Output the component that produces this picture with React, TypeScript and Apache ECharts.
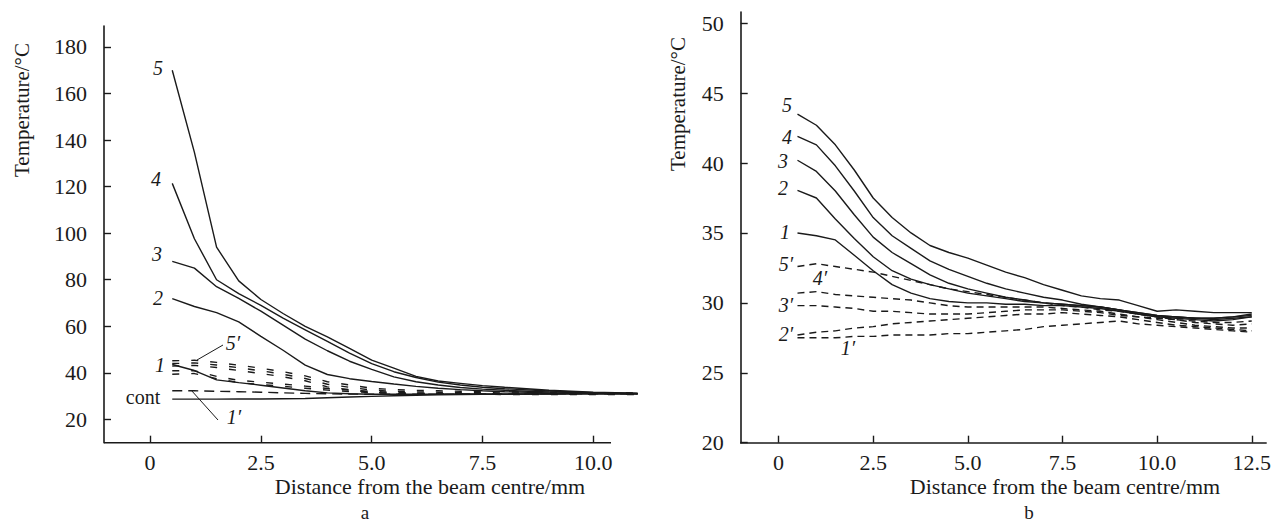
import React, { useEffect, useRef } from "react";
import * as echarts from "echarts";

// ---------- Panel a ----------
const xA = [0.5, 1, 1.5, 2, 2.5, 3, 3.5, 4, 4.5, 5, 5.5, 6, 6.5, 7, 7.5, 8, 9, 10, 11];
const a5 = [170, 134.7, 94, 79.5, 71.5, 65.5, 60, 55.5, 50.5, 45.5, 42, 38.5, 36.5, 35.5, 34.5, 33.8, 32.5, 31.7, 31.3];
const a4 = [121.4, 97.6, 80, 74, 69, 63.5, 58.5, 53.5, 48.5, 44, 40.5, 38, 36, 34.8, 33.8, 33.2, 32.2, 31.5, 31.2];
const a3 = [87.9, 85, 77, 72, 66.5, 60.5, 54.5, 49.5, 45, 41.5, 38.3, 36.2, 34.8, 33.7, 33, 32.5, 31.8, 31.4, 31.1];
const a2 = [71.9, 68.5, 65.9, 61.9, 55.7, 49.7, 43.3, 39.3, 37.5, 36.3, 35.2, 34.2, 33.4, 32.8, 32.3, 31.9, 31.4, 31.1, 31.0];
const a1 = [43.6, 41, 37, 35.8, 34.7, 33.5, 32.3, 31.4, 31, 30.8, 30.8, 30.8, 30.8, 30.9, 30.9, 30.9, 31, 31, 31];
const aD5 = [45.2, 45.4, 44.5, 43.3, 42, 40.5, 38.7, 36.2, 34.8, 33.4, 32.8, 32.5, 32.3, 32.1, 32, 31.9, 31.7, 31.5, 31.4];
const aD4 = [44, 44.3, 43.4, 42.2, 40.9, 39.4, 37.6, 35.1, 33.8, 32.6, 32, 31.8, 31.7, 31.6, 31.5, 31.4, 31.3, 31.2, 31.2];
const aD3 = [42.9, 43.2, 42.3, 41, 39.7, 38.3, 36.6, 34, 32.8, 31.6, 31.2, 31.1, 31, 31, 31, 31, 30.9, 30.9, 30.9];
const aD2 = [40.9, 40.9, 38.5, 36.8, 36, 35.2, 34.3, 33.3, 32.6, 32, 31.6, 31.3, 31.1, 31, 30.9, 30.9, 30.8, 30.8, 30.8];
const aD2b = [39.4, 39.7, 37.5, 35.8, 35, 34.2, 33.4, 32.6, 32, 31.5, 31.2, 31, 30.9, 30.8, 30.8, 30.7, 30.7, 30.7, 30.7];
const aD1 = [32.3, 32.3, 32.1, 31.9, 31.7, 31.4, 31.2, 31, 30.9, 30.8, 30.8, 30.8, 30.8, 30.9, 30.9, 30.9, 31, 31, 31];
const aCont = [28.7, 28.7, 28.7, 28.8, 28.8, 28.9, 29.0, 29.3, 29.6, 29.9, 30.2, 30.4, 30.6, 30.7, 30.8, 30.8, 30.9, 31, 31];
const aXTicks = [0, 2.5, 5, 7.5, 10];
const aYTicks = [20, 40, 60, 80, 100, 120, 140, 160, 180];
// x-axis line of panel a stops short of the curves' last point
const aAxisX = [-1.04, 10.4];
const aAxisY = 10;

// ---------- Panel b ----------
const xB = [0.5, 1, 1.5, 2, 2.5, 3, 3.5, 4, 4.5, 5, 5.5, 6, 6.5, 7, 7.5, 8, 8.5, 9, 9.5, 10, 10.5, 11, 11.5, 12, 12.5];
const b5 = [43.5, 42.7, 41.3, 39.5, 37.5, 36.1, 35.0, 34.1, 33.6, 33.2, 32.7, 32.2, 31.8, 31.3, 30.9, 30.5, 30.3, 30.2, 29.8, 29.4, 29.5, 29.4, 29.3, 29.3, 29.3];
const b4 = [41.9, 41.3, 39.8, 38.0, 36.1, 34.8, 33.9, 33.0, 32.4, 31.9, 31.4, 31.0, 30.7, 30.4, 30.2, 29.9, 29.7, 29.5, 29.2, 29.0, 29.0, 28.9, 28.9, 29.0, 29.2];
const b3 = [40.2, 39.4, 38.0, 36.3, 34.7, 33.6, 32.8, 32.0, 31.4, 31.0, 30.7, 30.4, 30.2, 30.0, 29.9, 29.8, 29.7, 29.5, 29.3, 29.1, 29.0, 28.9, 28.9, 29.0, 29.1];
const b2 = [38.05, 37.5, 36.0, 34.6, 33.3, 32.3, 31.7, 31.3, 31.0, 30.7, 30.5, 30.3, 30.1, 30.0, 29.9, 29.8, 29.7, 29.5, 29.3, 29.1, 29.0, 28.9, 28.8, 28.9, 29.0];
const b1 = [35.0, 34.8, 34.5, 33.4, 32.3, 31.3, 30.7, 30.3, 30.1, 30.0, 30.0, 29.9, 29.9, 29.8, 29.8, 29.7, 29.6, 29.4, 29.2, 29.0, 28.9, 28.8, 28.7, 28.8, 29.0];
const bD5 = [32.6, 32.8, 32.6, 32.4, 32.2, 31.9, 31.6, 31.3, 31.0, 30.8, 30.6, 30.4, 30.2, 30.0, 29.8, 29.7, 29.5, 29.4, 29.2, 29.0, 28.8, 28.7, 28.6, 28.6, 28.7];
const bD4 = [30.7, 30.8, 30.6, 30.5, 30.4, 30.3, 30.2, 30.0, 29.8, 29.7, 29.7, 29.7, 29.7, 29.7, 29.6, 29.5, 29.4, 29.2, 29.0, 28.9, 28.8, 28.6, 28.5, 28.4, 28.5];
const bD3 = [29.8, 29.8, 29.7, 29.6, 29.4, 29.4, 29.3, 29.2, 29.2, 29.2, 29.3, 29.4, 29.5, 29.5, 29.5, 29.4, 29.3, 29.1, 29.0, 28.8, 28.6, 28.4, 28.3, 28.2, 28.2];
const bD2 = [27.7, 27.9, 28.0, 28.2, 28.3, 28.5, 28.6, 28.7, 28.8, 28.9, 29.0, 29.1, 29.2, 29.2, 29.3, 29.2, 29.1, 29.0, 28.8, 28.6, 28.4, 28.3, 28.2, 28.1, 28.0];
const bD1 = [27.5, 27.5, 27.5, 27.6, 27.6, 27.7, 27.7, 27.7, 27.8, 27.8, 27.9, 28.0, 28.1, 28.3, 28.4, 28.5, 28.6, 28.7, 28.5, 28.4, 28.3, 28.2, 28.1, 28.0, 27.9];
const bXTicks = [0, 2.5, 5, 7.5, 10, 12.5];
const bYTicks = [20, 25, 30, 35, 40, 45, 50];

const FONT = "Liberation Serif";
const INK = "#1a1a1a";
const TICK_FS = 22;

function line(name: string, xs: number[], ys: number[], idx: number, dash?: number[]) {
  return {
    type: "line",
    name,
    xAxisIndex: idx,
    yAxisIndex: idx,
    data: xs.map((x, i) => [x, ys[i]]),
    symbol: "none",
    showSymbol: false,
    clip: false,
    silent: true,
    lineStyle: { color: INK, width: 1.4, type: dash ? dash : "solid" },
  };
}

function xAxisCfg(idx: number, min: number, max: number, ticks: number[], showLine: boolean) {
  return {
    type: "value",
    gridIndex: idx,
    min,
    max,
    splitLine: { show: false },
    axisLine: { show: showLine, onZero: false, lineStyle: { color: INK, width: 1.6 } },
    axisTick: { show: true, inside: true, length: 7, customValues: ticks, lineStyle: { color: INK, width: 1.4 } },
    axisLabel: {
      customValues: ticks,
      margin: 9,
      color: INK,
      fontFamily: FONT,
      fontSize: TICK_FS,
      formatter: (v: number) => (v === 0 ? "0" : v.toFixed(1)),
    },
  };
}

function yAxisCfg(idx: number, min: number, max: number, ticks: number[]) {
  return {
    type: "value",
    gridIndex: idx,
    min,
    max,
    splitLine: { show: false },
    axisLine: { show: true, onZero: false, lineStyle: { color: INK, width: 1.6 } },
    axisTick: { show: true, inside: true, length: 7, customValues: ticks, lineStyle: { color: INK, width: 1.4 } },
    axisLabel: {
      customValues: ticks,
      margin: 17,
      color: INK,
      fontFamily: FONT,
      fontSize: TICK_FS,
    },
  };
}

function txt(text: string, x: number, y: number, italic = true, size = 20, rotation = 0) {
  return {
    type: "text",
    x,
    y,
    rotation,
    silent: true,
    style: {
      text,
      fill: INK,
      font: `${italic ? "italic " : ""}${size}px "${FONT}"`,
      textAlign: "center",
      textVerticalAlign: "middle",
    },
  };
}

function seg(x1: number, y1: number, x2: number, y2: number) {
  return {
    type: "line",
    silent: true,
    shape: { x1, y1, x2, y2 },
    style: { stroke: INK, lineWidth: 1 },
  };
}

export default function App() {
  const ref = useRef<HTMLDivElement>(null);
  useEffect(() => {
    if (!ref.current) return;
    const chart = echarts.init(ref.current, null, { renderer: "svg" });
    const dashShortA = [7, 12];
    const dashLongA = [10, 6];
    const dashB = [7, 5];
    chart.setOption({
      animation: false,
      backgroundColor: "#ffffff",
      grid: [
        { left: 104, top: 26, width: 533.6, height: 416.7 },
        { left: 740.7, top: 12, width: 531, height: 430.7 },
      ],
      xAxis: [xAxisCfg(0, -1.04, 11, aXTicks, false), xAxisCfg(1, -1.0, 12.88, bXTicks, true)],
      yAxis: [yAxisCfg(0, 10, 189, aYTicks), yAxisCfg(1, 20, 50.8, bYTicks)],
      series: [
        {
          type: "line",
          name: "axis-a",
          xAxisIndex: 0,
          yAxisIndex: 0,
          data: aAxisX.map((x) => [x, aAxisY]),
          symbol: "none",
          clip: false,
          silent: true,
          lineStyle: { color: INK, width: 1.6 },
        },
        line("5", xA, a5, 0),
        line("4", xA, a4, 0),
        line("3", xA, a3, 0),
        line("2", xA, a2, 0),
        line("1", xA, a1, 0),
        line("5′", xA, aD5, 0, dashShortA),
        line("4′", xA, aD4, 0, dashShortA),
        line("3′", xA, aD3, 0, dashShortA),
        line("2′", xA, aD2, 0, dashShortA),
        line("2′b", xA, aD2b, 0, dashShortA),
        line("1′", xA, aD1, 0, dashLongA),
        line("cont", xA, aCont, 0),
        line("5", xB, b5, 1),
        line("4", xB, b4, 1),
        line("3", xB, b3, 1),
        line("2", xB, b2, 1),
        line("1", xB, b1, 1),
        line("5′", xB, bD5, 1, dashB),
        line("4′", xB, bD4, 1, dashB),
        line("3′", xB, bD3, 1, dashB),
        line("2′", xB, bD2, 1, dashB),
        line("1′", xB, bD1, 1, dashB),
      ],
      graphic: [
        // axis titles
        txt("Temperature/°C", 22, 110, false, 21, Math.PI / 2),
        txt("Temperature/°C", 678, 104, false, 21, Math.PI / 2),
        txt("Distance from the beam centre/mm", 430, 486, false, 22),
        txt("Distance from the beam centre/mm", 1065, 486, false, 22),
        txt("a", 365, 512, false, 19),
        txt("b", 1029, 512, false, 19),
        // panel a curve labels
        txt("5", 158, 68),
        txt("4", 156, 179),
        txt("3", 157, 254),
        txt("2", 158, 298),
        txt("1", 160, 365),
        txt("5′", 233, 343),
        txt("cont", 143, 397, false),
        txt("1′", 234, 417),
        seg(223, 345, 197, 360),
        seg(218, 420, 191, 390),
        // panel b curve labels
        txt("5", 787, 105),
        txt("4", 787, 137),
        txt("3", 783, 161),
        txt("2", 783, 188),
        txt("1", 785, 232),
        txt("5′", 786, 264),
        txt("4′", 820, 278),
        txt("3′", 786, 305),
        txt("2′", 786, 334),
        txt("1′", 848, 348),
      ],
    });
    return () => chart.dispose();
  }, []);
  return (
    <div
      ref={ref}
      style={{ position: "fixed", left: 0, top: 0, width: 1274, height: 523, background: "#fff" }}
    />
  );
}
